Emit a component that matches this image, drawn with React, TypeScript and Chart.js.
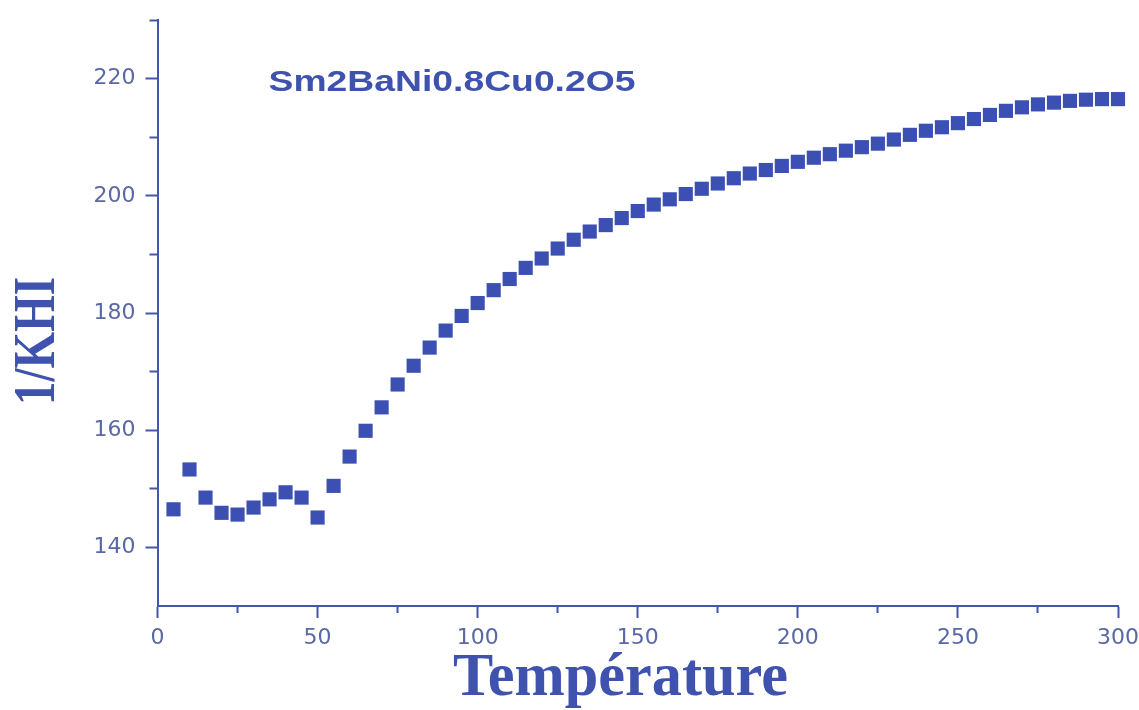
import React, { useEffect, useRef } from 'react';
import { Chart, registerables } from 'chart.js';

Chart.register(...registerables);

// ---- data ----
const temperatures = [
  5, 10, 15, 20, 25, 30, 35, 40, 45, 50,
  55, 60, 65, 70, 75, 80, 85, 90, 95, 100,
  105, 110, 115, 120, 125, 130, 135, 140, 145, 150,
  155, 160, 165, 170, 175, 180, 185, 190, 195, 200,
  205, 210, 215, 220, 225, 230, 235, 240, 245, 250,
  255, 260, 265, 270, 275, 280, 285, 290, 295, 300,
];

const inverseChi = [
  146.5, 153.3, 148.5, 145.9, 145.6, 146.8, 148.2, 149.4, 148.5, 145.1,
  150.5, 155.5, 159.9, 163.9, 167.8, 171.0, 174.1, 177.0, 179.5, 181.7,
  183.9, 185.8, 187.7, 189.3, 191.0, 192.5, 193.9, 195.0, 196.2, 197.4,
  198.5, 199.4, 200.3, 201.2, 202.1, 203.0, 203.8, 204.4, 205.1, 205.8,
  206.5, 207.1, 207.7, 208.3, 208.9, 209.6, 210.4, 211.1, 211.7, 212.4,
  213.1, 213.8, 214.5, 215.1, 215.6, 215.9, 216.2, 216.4, 216.5, 216.5,
];

const xMajorTicks = [0, 50, 100, 150, 200, 250, 300];
const xMinorTicks = [25, 75, 125, 175, 225, 275];
const yMajorTicks = [140, 160, 180, 200, 220];
const yMinorTicks = [150, 170, 190, 210, 230];

const compoundLabel = 'Sm2BaNi0.8Cu0.2O5';
const xTitle = 'Température';
const yTitle = '1/KHI';

// ---- styles ----
const POINT_BLUE = '#3c4fb3';
const TEXT_BLUE = '#3f52ae';
const AXIS_BLUE = '#4356aa';
const TICK_TEXT = '#5a68a6';

const W = 1139;
const H = 710;

const textPlugin = {
  id: 'stretchedText',
  afterDraw(chart: any) {
    const { ctx, chartArea } = chart;
    const draw = (
      text: string,
      font: string,
      cx: number,
      cy: number,
      targetWidth: number,
      align: CanvasTextAlign,
      rotate: boolean,
    ) => {
      ctx.save();
      ctx.font = font;
      ctx.fillStyle = TEXT_BLUE;
      ctx.textAlign = align;
      ctx.textBaseline = 'alphabetic';
      const m = ctx.measureText(text).width;
      const s = targetWidth / m;
      ctx.translate(cx, cy);
      if (rotate) ctx.rotate(-Math.PI / 2);
      ctx.scale(s, 1);
      ctx.fillText(text, 0, 0);
      ctx.restore();
    };
    // compound name inside the plot
    draw(compoundLabel, 'bold 29px "Liberation Sans", Arial, sans-serif',
      chartArea.left + 111, chartArea.top + 71, 367, 'left', false);
    // x axis title
    draw(xTitle, 'bold 62px "Liberation Serif", "Times New Roman", serif',
      chartArea.left + 463, chartArea.bottom + 89, 335, 'center', false);
    // y axis title (rotated)
    draw(yTitle, 'bold 60px "Liberation Serif", "Times New Roman", serif',
      chartArea.left - 104, chartArea.top + 321, 128, 'center', true);
  },
};

const tickFont = { family: '"DejaVu Sans", sans-serif', size: 22 };

export default function App() {
  const canvasRef = useRef<HTMLCanvasElement | null>(null);

  useEffect(() => {
    if (!canvasRef.current) return;
    const points = temperatures.map((t, i) => ({ x: t, y: inverseChi[i] }));

    const chart = new Chart(canvasRef.current, {
      type: 'scatter',
      data: {
        datasets: [
          {
            label: compoundLabel,
            data: points,
            pointStyle: 'rect',
            pointRadius: 10,
            pointHoverRadius: 10,
            backgroundColor: POINT_BLUE,
            borderColor: POINT_BLUE,
            borderWidth: 0,
            showLine: false,
            clip: false as any,
          },
        ],
      },
      options: {
        responsive: false,
        animation: false,
        events: [],
        layout: { padding: { top: 20, right: 21, bottom: 0, left: 0 } },
        plugins: {
          legend: { display: false },
          tooltip: { enabled: false },
          title: { display: false },
        },
        scales: {
          x: {
            type: 'linear',
            position: 'bottom',
            weight: 1,
            min: 0,
            max: 300,
            afterBuildTicks: (s: any) => {
              s.ticks = xMajorTicks.map((v) => ({ value: v }));
            },
            afterFit: (s: any) => {
              s.height = 104;
              s.paddingLeft = 0;
              s.paddingRight = 0;
            },
            ticks: {
              color: TICK_TEXT,
              font: tickFont,
              padding: 7,
              maxRotation: 0,
              autoSkip: false,
            },
            grid: {
              drawOnChartArea: false,
              drawTicks: true,
              tickLength: 12,
              tickColor: AXIS_BLUE,
              tickWidth: 2,
            },
            border: { display: true, color: AXIS_BLUE, width: 2 },
          },
          xMinor: {
            type: 'linear',
            position: 'bottom',
            weight: 0,
            min: 0,
            max: 300,
            afterBuildTicks: (s: any) => {
              s.ticks = xMinorTicks.map((v) => ({ value: v }));
            },
            afterFit: (s: any) => {
              s.height = 0;
              s.paddingLeft = 0;
              s.paddingRight = 0;
            },
            ticks: { display: false },
            grid: {
              drawOnChartArea: false,
              drawTicks: true,
              tickLength: 7,
              tickColor: AXIS_BLUE,
              tickWidth: 2,
            },
            border: { display: false },
          },
          y: {
            type: 'linear',
            position: 'left',
            weight: 1,
            min: 130,
            max: 230,
            afterBuildTicks: (s: any) => {
              s.ticks = yMajorTicks.map((v) => ({ value: v }));
            },
            afterFit: (s: any) => {
              s.width = 157.5;
              s.paddingTop = 0;
              s.paddingBottom = 0;
            },
            ticks: {
              color: TICK_TEXT,
              font: tickFont,
              padding: 10,
            },
            grid: {
              drawOnChartArea: false,
              drawTicks: true,
              tickLength: 12,
              tickColor: AXIS_BLUE,
              tickWidth: 2,
            },
            border: { display: true, color: AXIS_BLUE, width: 2 },
          },
          yMinor: {
            type: 'linear',
            position: 'left',
            weight: 0,
            min: 130,
            max: 230,
            afterBuildTicks: (s: any) => {
              s.ticks = yMinorTicks.map((v) => ({ value: v }));
            },
            afterFit: (s: any) => {
              s.width = 0;
              s.paddingTop = 0;
              s.paddingBottom = 0;
            },
            ticks: { display: false },
            grid: {
              drawOnChartArea: false,
              drawTicks: true,
              tickLength: 8,
              tickColor: AXIS_BLUE,
              tickWidth: 2,
            },
            border: { display: false },
          },
        },
      } as any,
      plugins: [textPlugin],
    });

    return () => {
      chart.destroy();
    };
  }, []);

  return (
    <div
      style={{
        position: 'fixed',
        left: 0,
        top: 0,
        width: W,
        height: H,
        background: '#ffffff',
      }}
    >
      <canvas ref={canvasRef} width={W} height={H} style={{ display: 'block' }} />
    </div>
  );
}
